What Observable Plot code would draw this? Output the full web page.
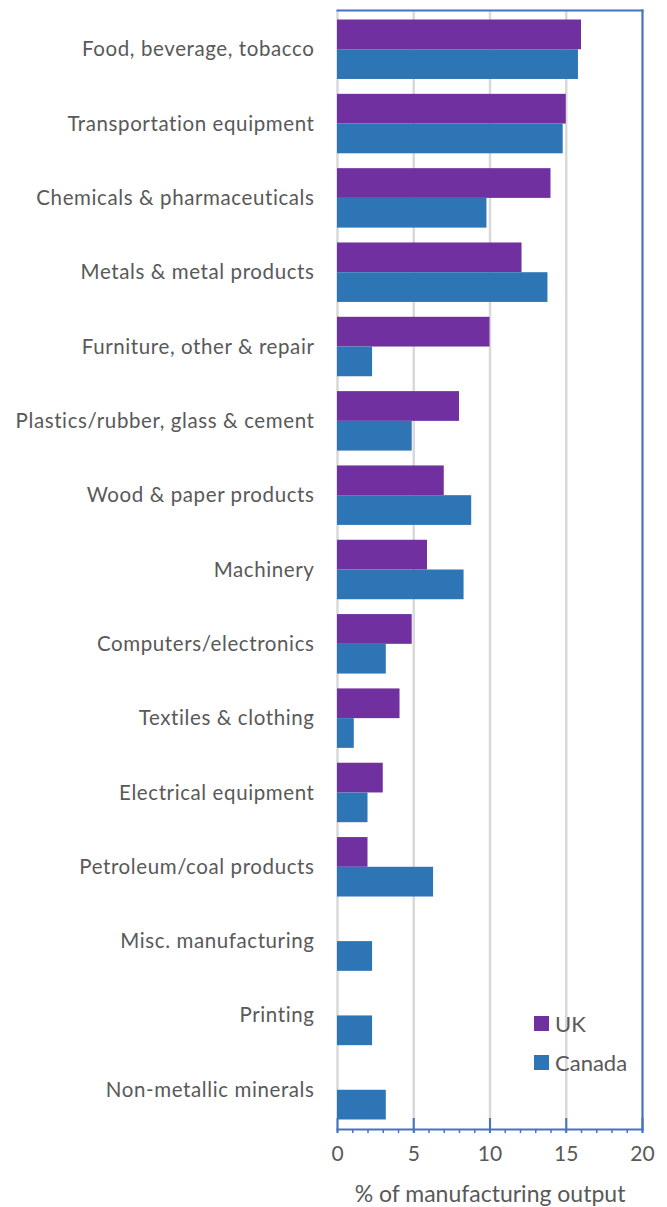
<!DOCTYPE html>
<html>
<head>
<meta charset="utf-8">
<script src="https://cdn.jsdelivr.net/npm/d3@7"></script>
<script src="https://cdn.jsdelivr.net/npm/@observablehq/plot@0.6"></script>
<style>
  body { margin: 0; background: #fff; font-family: Lato, sans-serif; }
  #wrap { position: relative; width: 667px; height: 1207px; }
  #legend { position: absolute; left: 534px; top: 1013px; }
  .item { display: flex; align-items: center; height: 20px; margin-bottom: 19px; color: #595959; font-size: 22px; }
  .sw { width: 15px; height: 15px; margin-right: 6px; }
  .ylab text { letter-spacing: 0.6px; }
</style>
</head>
<body>
<div id="wrap"></div>
<script>
const categories = [
  "Food, beverage, tobacco",
  "Transportation equipment",
  "Chemicals & pharmaceuticals",
  "Metals & metal products",
  "Furniture, other & repair",
  "Plastics/rubber, glass & cement",
  "Wood & paper products",
  "Machinery",
  "Computers/electronics",
  "Textiles & clothing",
  "Electrical equipment",
  "Petroleum/coal products",
  "Misc. manufacturing",
  "Printing",
  "Non-metallic minerals"
];
const series = ["UK", "Canada"];
const ukValues = [16.0, 15.0, 14.0, 12.1, 10.0, 8.0, 7.0, 5.9, 4.9, 4.1, 3.0, 2.0, null, null, null];
const canadaValues = [15.8, 14.8, 9.8, 13.8, 2.3, 4.9, 8.8, 8.3, 3.2, 1.1, 2.0, 6.3, 2.3, 2.3, 3.2];
const xTicks = [0, 5, 10, 15, 20];
const minorTicks = d3.range(0, 21);
const colors = ["#7030A0", "#2E75B6"];
const axisTitle = "% of manufacturing output";

const W = 667, H = 1207, mt = 10, mb = 78, ml = 337, mr = 25;
const pIn = 0.2, pOut = 0.128;
const step = (H - mt - mb) / (categories.length - pIn + 2 * pOut);
const half = step * (1 - pIn) / 2;

const rows = categories.flatMap((c, i) => [
  {category: c, series: series[0], value: ukValues[i]},
  {category: c, series: series[1], value: canadaValues[i]}
]).filter(d => d.value != null);

const blue = "#4472C4", grid = "#D9D9D9", text = "#595959";

const chart = Plot.plot({
  width: W, height: H,
  marginTop: mt, marginBottom: mb, marginLeft: ml, marginRight: mr,
  style: {fontFamily: "Lato, sans-serif", background: "#fff"},
  x: {domain: [0, 20]},
  y: {domain: categories, paddingInner: pIn, paddingOuter: pOut, round: false},
  color: {domain: series, range: colors},
  marks: [
    Plot.ruleX(xTicks, {stroke: grid, strokeWidth: 2.5}),
    Plot.barX(rows.filter(d => d.series === series[0]), {x: "value", y: "category", fill: "series", insetBottom: half}),
    Plot.barX(rows.filter(d => d.series === series[1]), {x: "value", y: "category", fill: "series", insetTop: half}),
    Plot.frame({anchor: "top", stroke: blue, strokeWidth: 2}),
    Plot.frame({anchor: "right", stroke: blue, strokeWidth: 2}),
    Plot.frame({anchor: "bottom", stroke: blue, strokeWidth: 2}),
    Plot.axisY({tickSize: 0, tickPadding: 23, fontSize: 20.5, fill: text, label: null, className: "ylab"}),
    Plot.axisX({ticks: minorTicks, tickSize: 4, tickFormat: () => "", stroke: blue, strokeWidth: 1.5, label: null}),
    Plot.axisX({ticks: xTicks, tickSize: 15, dy: -11, tickFormat: () => "", stroke: blue, strokeWidth: 2, label: null}),
    Plot.axisX({ticks: xTicks, tickSize: 0, tickPadding: 17, fontSize: 21, fill: text,
      label: axisTitle, labelAnchor: "center", labelOffset: 72, labelArrow: "none"})
  ]
});

const wrap = document.getElementById("wrap");
wrap.appendChild(chart);
// enlarge the axis title and space out the category labels to match the reference
chart.querySelectorAll("text").forEach(t => {
  if (t.textContent === axisTitle) { t.setAttribute("font-size", 23); t.style.fontSize = "23px"; }
  if (categories.includes(t.textContent)) t.style.letterSpacing = "0.6px";
});
const legend = document.createElement("div");
legend.id = "legend";
series.forEach((s, i) => {
  const it = document.createElement("div");
  it.className = "item";
  const sw = document.createElement("span");
  sw.className = "sw";
  sw.style.background = colors[i];
  it.appendChild(sw);
  it.appendChild(document.createTextNode(s));
  legend.appendChild(it);
});
wrap.appendChild(legend);
</script>
</body>
</html>
